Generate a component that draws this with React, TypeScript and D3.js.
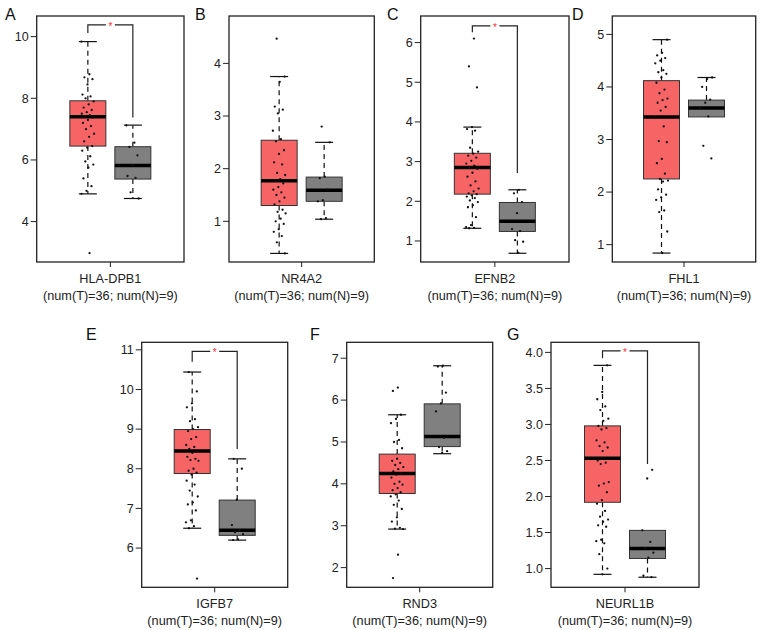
import * as d3 from "d3";

// ---- data ----
const LETTERS = ["A", "B", "C", "D", "E", "F", "G"];
const GENES = ["HLA-DPB1", "NR4A2", "EFNB2", "FHL1", "IGFB7", "RND3", "NEURL1B"];
const SUBTITLE = "(num(T)=36; num(N)=9)";
const GROUPS = ["T", "N"];

const Y_DOMAINS: [number, number][] = [
  [2.69, 10.67],
  [0.227, 4.9],
  [0.47, 6.67],
  [0.67, 5.35],
  [5.01, 11.19],
  [1.53, 7.38],
  [0.74, 4.14],
];

const Y_TICKS: number[][] = [
  [4, 6, 8, 10],
  [1, 2, 3, 4],
  [1, 2, 3, 4, 5, 6],
  [1, 2, 3, 4, 5],
  [6, 7, 8, 9, 10, 11],
  [2, 3, 4, 5, 6, 7],
  [1.0, 1.5, 2.0, 2.5, 3.0, 3.5, 4.0],
];
const TICK_FORMATS = ["d", "d", "d", "d", "d", "d", ".1f"];

// [lower whisker, Q1, median, Q3, upper whisker]
const TUMOR_STATS: number[][] = [
  [4.9, 6.45, 7.4, 7.92, 9.84],
  [0.39, 1.3, 1.77, 2.54, 3.75],
  [1.32, 2.18, 2.85, 3.21, 3.87],
  [0.84, 2.25, 3.43, 4.12, 4.9],
  [6.5, 7.88, 8.45, 8.99, 10.44],
  [2.92, 3.77, 4.25, 4.71, 5.65],
  [0.92, 1.92, 2.53, 2.98, 3.82],
];
const NORMAL_STATS: number[][] = [
  [4.75, 5.38, 5.82, 6.43, 7.13],
  [1.04, 1.38, 1.59, 1.84, 2.5],
  [0.69, 1.24, 1.5, 1.97, 2.29],
  [3.43, 3.43, 3.6, 3.75, 4.18],
  [6.2, 6.32, 6.45, 7.21, 8.25],
  [4.72, 4.89, 5.13, 5.91, 6.82],
  [0.88, 1.14, 1.28, 1.53, 1.53],
];

const TUMOR_POINTS: number[][] = [
  [9.84, 8.78, 8.68, 8.62, 8.45, 8.12, 8.06, 8.0, 7.9, 7.8, 7.7, 7.62, 7.55, 7.5, 7.45, 7.4, 7.38, 7.3,
    7.2, 7.1, 7.0, 6.85, 6.75, 6.6, 6.45, 6.4, 6.3, 6.12, 5.95, 5.85, 5.75, 5.4, 5.15, 5.0, 4.9, 2.98],
  [4.47, 3.75, 3.65, 3.18, 3.12, 3.05, 2.72, 2.56, 2.52, 2.35, 2.28, 2.12, 2.08, 1.92, 1.88, 1.8, 1.77, 1.72,
    1.65, 1.6, 1.55, 1.5, 1.45, 1.38, 1.32, 1.22, 1.18, 1.15, 1.05, 1.0, 0.95, 0.85, 0.8, 0.72, 0.6, 0.39],
  [6.1, 5.4, 4.87, 3.87, 3.82, 3.78, 3.35, 3.25, 3.2, 3.15, 3.1, 3.02, 2.95, 2.9, 2.85, 2.82, 2.72, 2.62,
    2.5, 2.4, 2.32, 2.25, 2.2, 2.18, 2.15, 2.12, 2.08, 2.02, 1.98, 1.9, 1.85, 1.6, 1.4, 1.35, 1.33, 1.32],
  [4.9, 4.65, 4.6, 4.55, 4.5, 4.45, 4.32, 4.28, 4.25, 4.18, 4.08, 3.95, 3.88, 3.78, 3.75, 3.7, 3.62, 3.55,
    3.42, 3.25, 2.97, 2.95, 2.63, 2.55, 2.35, 2.25, 2.22, 2.2, 2.05, 1.95, 1.9, 1.85, 1.65, 1.62, 1.25, 0.84],
  [10.44, 9.95, 9.65, 9.55, 9.25, 9.2, 9.05, 9.0, 8.95, 8.8, 8.75, 8.6, 8.55, 8.5, 8.45, 8.4, 8.3, 8.25,
    8.22, 8.2, 8.0, 7.95, 7.9, 7.85, 7.7, 7.6, 7.45, 7.3, 7.15, 7.1, 6.95, 6.7, 6.65, 6.55, 6.5, 5.23],
  [6.3, 6.22, 5.65, 5.55, 5.45, 5.05, 5.0, 4.85, 4.6, 4.55, 4.5, 4.45, 4.4, 4.35, 4.3, 4.25, 4.22, 4.15,
    4.05, 4.0, 3.98, 3.9, 3.85, 3.8, 3.75, 3.7, 3.6, 3.5, 3.4, 3.2, 3.1, 2.95, 2.93, 2.92, 2.31, 1.75],
  [3.82, 3.45, 3.35, 3.25, 3.2, 3.08, 3.05, 2.98, 2.95, 2.93, 2.78, 2.75, 2.7, 2.68, 2.63, 2.5, 2.47, 2.45,
    2.2, 2.18, 2.15, 2.06, 1.95, 1.9, 1.8, 1.72, 1.68, 1.65, 1.6, 1.58, 1.4, 1.38, 1.35, 1.2, 1.0, 0.92],
];
const NORMAL_POINTS: number[][] = [
  [7.12, 6.56, 6.42, 6.15, 5.82, 5.48, 5.42, 4.95, 4.75],
  [2.8, 2.5, 1.85, 1.82, 1.6, 1.4, 1.38, 1.06, 1.04],
  [2.29, 2.2, 1.98, 1.7, 1.3, 1.25, 1.02, 0.98, 0.7],
  [4.18, 4.15, 4.0, 3.76, 3.7, 3.6, 3.44, 2.88, 2.64],
  [8.25, 8.0, 7.22, 6.58, 6.45, 6.4, 6.35, 6.22, 6.2],
  [6.82, 6.8, 6.18, 5.92, 5.73, 5.1, 4.88, 4.78, 4.74],
  [2.37, 2.25, 1.53, 1.37, 1.28, 1.22, 1.15, 0.9, 0.88],
];

// significance bracket: [top, left leg end, right leg end] or null
const SIG_BRACKETS: (number[] | null)[] = [
  [10.38, 10.12, 7.38],
  null,
  [6.42, 6.26, 2.71],
  null,
  [10.96, 10.7, 8.5],
  null,
  [4.02, 3.92, 2.45],
];

// ---- layout ----
const W = 765;
const H = 630;
const FRAMES = [
  { x0: 36.7, x1: 184, row: 0 },
  { x0: 229, x1: 374.3, row: 0 },
  { x0: 420.7, x1: 569, row: 0 },
  { x0: 612.3, x1: 755.7, row: 0 },
  { x0: 141.7, x1: 287.7, row: 1 },
  { x0: 346.7, x1: 492.7, row: 1 },
  { x0: 551, x1: 699, row: 1 },
];
const ROW_TOP = [16, 342.3];
const ROW_BOTTOM = [262, 587.3];
const LETTER_POS = [
  [5, 20], [195, 20], [387, 20], [572, 20],
  [86, 340], [310, 340], [507, 340],
];
const COLORS: Record<string, string> = { T: "#f76465", N: "#808080" };
const FONT = "'Liberation Sans', Arial, Helvetica, sans-serif";

function Panel({ i }: { i: number }) {
  const f = FRAMES[i];
  const top = ROW_TOP[f.row];
  const bottom = ROW_BOTTOM[f.row];
  const cx = (f.x0 + f.x1) / 2;

  const y = d3.scaleLinear().domain(Y_DOMAINS[i]).range([bottom, top]);
  const x = d3
    .scaleBand<string>()
    .domain(GROUPS)
    .range([cx - 40.5, cx + 40.5])
    .paddingInner(0.2)
    .paddingOuter(0);
  const bw = x.bandwidth();
  const fmt = d3.format(TICK_FORMATS[i]);

  const groups = [
    { key: "T", stats: TUMOR_STATS[i], pts: TUMOR_POINTS[i] },
    { key: "N", stats: NORMAL_STATS[i], pts: NORMAL_POINTS[i] },
  ];

  const sig = SIG_BRACKETS[i];
  const xT = (x("T") ?? 0) + bw / 2;
  const xN = (x("N") ?? 0) + bw / 2;
  const xMid = (xT + xN) / 2;

  return (
    <g>
      {/* y axis */}
      {Y_TICKS[i].map((t) => (
        <g key={t} transform={`translate(0,${y(t)})`}>
          <line x1={f.x0 - 6} x2={f.x0} stroke="#222" strokeWidth={1} />
          <text
            x={f.x0 - 8}
            dy="0.35em"
            textAnchor="end"
            fontSize={12.5}
            fontFamily={FONT}
            fill="#222"
          >
            {fmt(t)}
          </text>
        </g>
      ))}
      {/* x tick */}
      <line x1={cx} x2={cx} y1={bottom} y2={bottom + 5} stroke="#222" strokeWidth={1} />
      <text x={cx} y={bottom + 20.5} textAnchor="middle" fontSize={12.7} fontFamily={FONT} fill="#222">
        {GENES[i]}
      </text>
      <text x={cx} y={bottom + 37.5} textAnchor="middle" fontSize={12.7} fontFamily={FONT} fill="#222">
        {SUBTITLE}
      </text>

      {groups.map((g) => {
        const x0 = x(g.key) ?? 0;
        const c = x0 + bw / 2;
        const [lo, q1, med, q3, hi] = g.stats;
        return (
          <g key={g.key}>
            {hi > q3 && (
              <line x1={c} x2={c} y1={y(q3)} y2={y(hi)} stroke="#111" strokeWidth={1.2} strokeDasharray="5,4" />
            )}
            {lo < q1 && (
              <line x1={c} x2={c} y1={y(q1)} y2={y(lo)} stroke="#111" strokeWidth={1.2} strokeDasharray="5,4" />
            )}
            {hi > q3 && <line x1={c - bw / 4} x2={c + bw / 4} y1={y(hi)} y2={y(hi)} stroke="#111" strokeWidth={1.2} />}
            {lo < q1 && <line x1={c - bw / 4} x2={c + bw / 4} y1={y(lo)} y2={y(lo)} stroke="#111" strokeWidth={1.2} />}
            <rect
              x={x0}
              y={y(q3)}
              width={bw}
              height={y(q1) - y(q3)}
              fill={COLORS[g.key]}
              stroke="#333"
              strokeWidth={1}
            />
            <line x1={x0} x2={x0 + bw} y1={y(med)} y2={y(med)} stroke="#000" strokeWidth={3.5} />
            {g.pts.map((v, k) => {
              const jitter = (((k * 0.618034 + i * 0.31) % 1) - 0.5) * 13;
              return <circle key={k} cx={c + jitter} cy={y(v)} r={1.15} fill="#111" />;
            })}
          </g>
        );
      })}

      {sig && (
        <g fill="none" stroke="#222" strokeWidth={1.2}>
          <polyline points={`${xT},${y(sig[1])} ${xT},${y(sig[0])} ${xMid - 4.5},${y(sig[0])}`} />
          <polyline points={`${xMid + 4.5},${y(sig[0])} ${xN},${y(sig[0])} ${xN},${y(sig[2])}`} />
          <text
            x={xMid}
            y={y(sig[0]) + 5}
            textAnchor="middle"
            fontSize={10}
            fontFamily={FONT}
            fill="#ff2a2a"
            stroke="none"
          >
            *
          </text>
        </g>
      )}

      {/* frame */}
      <rect x={f.x0} y={top} width={f.x1 - f.x0} height={bottom - top} fill="none" stroke="#222" strokeWidth={1.3} />

      <text
        x={LETTER_POS[i][0]}
        y={LETTER_POS[i][1]}
        fontSize={16}
        fontFamily={FONT}
        fill="#111"
      >
        {LETTERS[i]}
      </text>
    </g>
  );
}

export default function App() {
  return (
    <svg
      width={W}
      height={H}
      style={{ position: "absolute", left: 0, top: 0, background: "#fff" }}
    >
      <rect width={W} height={H} fill="#fff" />
      {GENES.map((_, i) => (
        <Panel key={i} i={i} />
      ))}
    </svg>
  );
}
